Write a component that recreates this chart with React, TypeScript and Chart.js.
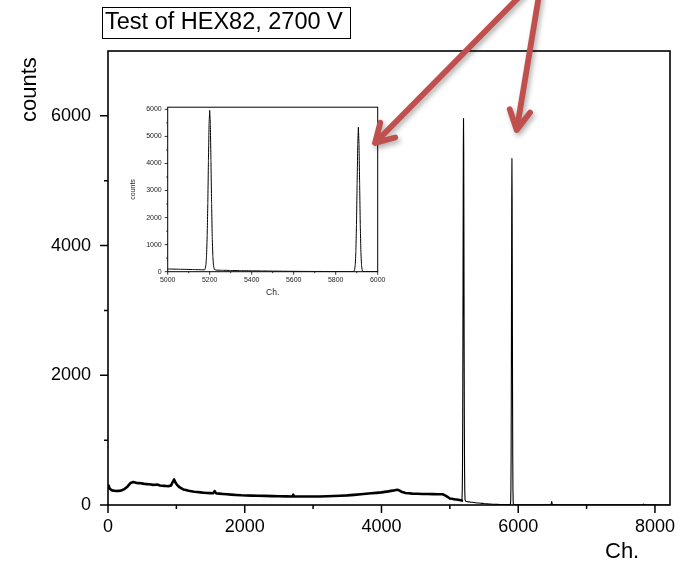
import React, { useEffect, useRef } from 'react';
import { Chart, registerables } from 'chart.js';

Chart.register(...registerables);

const FONT = '"Liberation Sans", Arial, Helvetica, sans-serif';

// ---- data ----
const channels = [
  0, 10, 25, 60, 120, 180, 240, 290, 330, 370, 420, 480, 540, 600, 660, 720, 760, 820, 880, 920,
  950, 965, 985, 1010, 1050, 1100, 1180, 1260, 1350, 1450, 1540, 1560, 1580, 1680, 1800, 1950,
  2100, 2300, 2500, 2700, 2710, 2720, 2900, 3100, 3300, 3500, 3700, 3850, 4000, 4100, 4180, 4240,
  4290, 4350, 4450, 4600, 4750, 4900, 4960, 5000, 5060, 5120, 5160, 5176,
  5178, 5182, 5185, 5188, 5191, 5194, 5197, 5200, 5203, 5206, 5209, 5212, 5215, 5218, 5222, 5230,
  5260, 5300, 5350, 5400, 5450, 5500, 5550, 5600, 5650, 5700, 5750, 5800, 5850, 5880,
  5887, 5890, 5893, 5896, 5899, 5902, 5905, 5908, 5911, 5914, 5917, 5920, 5923, 5926, 5929, 5940,
  6000, 6150, 6300, 6480, 6490, 6500, 6700, 7000, 7400, 7820, 7830, 7840, 8100, 8220,
];
const counts = [
  270, 300, 250, 225, 215, 220, 245, 290, 340, 355, 340, 335, 325, 320, 310, 315, 300, 295, 290, 300,
  360, 395, 350, 310, 270, 240, 220, 205, 195, 185, 180, 215, 180, 170, 160, 150,
  145, 140, 135, 132, 160, 132, 130, 132, 138, 148, 165, 180, 195, 210, 225, 235,
  205, 185, 175, 170, 168, 165, 130, 100, 90, 80, 72, 68,
  95, 244, 590, 1315, 2540, 4100, 5470, 5960, 5460, 4090, 2530, 1300, 575, 230, 85, 58,
  52, 45, 38, 32, 28, 22, 18, 14, 11, 9, 8, 7, 6, 6,
  18, 65, 240, 728, 1738, 3242, 4715, 5340, 4713, 3239, 1734, 723, 235, 59, 12, 6,
  5, 5, 4, 4, 55, 4, 3, 3, 2, 2, 16, 2, 1, 1,
];

// axis ranges and ticks
const mainXRange = [0, 8220];
const mainYRange = [0, 7000];
const mainXTicks = [0, 1000, 2000, 3000, 4000, 5000, 6000, 7000, 8000];
const mainYTicks = [0, 1000, 2000, 3000, 4000, 5000, 6000];
const mainXLabels = ['0', '', '2000', '', '4000', '', '6000', '', '8000'];
const mainYLabels = ['0', '', '2000', '', '4000', '', '6000'];

const insetXRange = [5000, 6000];
const insetYRange = [0, 6080];
const insetXTicks = [5000, 5100, 5200, 5300, 5400, 5500, 5600, 5700, 5800, 5900, 6000];
const insetXLabels = ['5000', '', '5200', '', '5400', '', '5600', '', '5800', '', '6000'];
const insetYTicks = [0, 500, 1000, 1500, 2000, 2500, 3000, 3500, 4000, 4500, 5000, 5500, 6000];
const insetYLabels = ['0', '', '1000', '', '2000', '', '3000', '', '4000', '', '5000', '', '6000'];

const titleText = 'Test of HEX82, 2700 V';
const xTitle = 'Ch.';
const yTitle = 'counts';

const points = () => channels.map((c, i) => ({ x: c, y: counts[i] }));

const setTicks = (values: number[]) => (s: any) => {
  s.ticks = values.map((v) => ({ value: v }));
};
const labelsFrom = (labels: string[]) => (_v: any, i: number) => labels[i];

function framePlugin(o: { frame: number; major: number; minor: number; tickW: number }) {
  return {
    id: 'frameTicks',
    afterDatasetsDraw(chart: any) {
      const { ctx, chartArea } = chart;
      const { left, right, top, bottom } = chartArea;
      const xs = chart.scales.x;
      const ys = chart.scales.y;
      ctx.save();
      ctx.strokeStyle = '#000';
      ctx.lineWidth = o.frame;
      ctx.strokeRect(left, top, right - left, bottom - top);
      ctx.lineWidth = o.tickW;
      ctx.beginPath();
      xs.ticks.forEach((t: any) => {
        const p = xs.getPixelForValue(t.value);
        const len = t.label !== '' ? o.major : o.minor;
        ctx.moveTo(p, bottom);
        ctx.lineTo(p, bottom + len);
      });
      ys.ticks.forEach((t: any) => {
        const p = ys.getPixelForValue(t.value);
        const len = t.label !== '' ? o.major : o.minor;
        ctx.moveTo(left, p);
        ctx.lineTo(left - len, p);
      });
      ctx.stroke();
      ctx.restore();
    },
  };
}

const mainTitles = {
  id: 'mainTitles',
  afterDraw(chart: any) {
    const { ctx } = chart;
    ctx.save();
    ctx.fillStyle = '#000';
    ctx.font = `22px ${FONT}`;
    ctx.textBaseline = 'alphabetic';
    ctx.textAlign = 'left';
    ctx.fillText(xTitle, 605, 558);
    ctx.translate(36, 122);
    ctx.rotate(-Math.PI / 2);
    ctx.fillText(yTitle, 0, 0);
    ctx.restore();
  },
};

// annotation arrows (decoration)
const arrows = [
  { from: [522, -6], to: [375, 143], spread: 30, wing: 21 },
  { from: [539.2, -6], to: [516.7, 130], spread: 28, wing: 22 },
];

const arrowPlugin = {
  id: 'arrows',
  afterDraw(chart: any) {
    const { ctx } = chart;
    ctx.save();
    ctx.strokeStyle = 'rgb(192, 80, 77)';
    ctx.lineWidth = 5.8;
    ctx.lineCap = 'round';
    ctx.lineJoin = 'round';
    ctx.shadowColor = 'rgba(0,0,0,0.3)';
    ctx.shadowBlur = 5;
    ctx.shadowOffsetX = 2;
    ctx.shadowOffsetY = 3;
    arrows.forEach((a) => {
      const [x0, y0] = a.from;
      const [x1, y1] = a.to;
      const ang = Math.atan2(y0 - y1, x0 - x1);
      const s = (a.spread * Math.PI) / 180;
      ctx.beginPath();
      ctx.moveTo(x0, y0);
      ctx.lineTo(x1, y1);
      ctx.moveTo(x1 + a.wing * Math.cos(ang - s), y1 + a.wing * Math.sin(ang - s));
      ctx.lineTo(x1, y1);
      ctx.lineTo(x1 + a.wing * Math.cos(ang + s), y1 + a.wing * Math.sin(ang + s));
      ctx.stroke();
    });
    ctx.restore();
  },
};

export default function App() {
  const mainRef = useRef<HTMLCanvasElement>(null);
  const insetRef = useRef<HTMLCanvasElement>(null);

  useEffect(() => {
    const main = new Chart(mainRef.current as HTMLCanvasElement, {
      type: 'line',
      data: {
        datasets: [
          {
            data: points(),
            borderColor: '#000',
            borderWidth: 1.2,
            borderJoinStyle: 'round',
            borderCapStyle: 'round',
            pointRadius: 0,
            tension: 0.00001,
            fill: false,
            segment: {
              borderWidth: (c: any) => (c.p0.parsed.x >= 5170 ? 1.1 : 2.6),
            },
          } as any,
        ],
      },
      options: {
        responsive: false,
        animation: false,
        events: [],
        layout: { padding: { left: 0, top: 51, right: 18, bottom: 0 } },
        plugins: { legend: { display: false }, tooltip: { enabled: false }, title: { display: false } },
        scales: {
          x: {
            type: 'linear',
            min: mainXRange[0],
            max: mainXRange[1],
            afterBuildTicks: setTicks(mainXTicks),
            afterFit: (s: any) => {
              s.height = 57;
            },
            grid: { display: false, drawTicks: false },
            border: { display: false },
            ticks: {
              autoSkip: false,
              maxRotation: 0,
              padding: 11,
              color: '#000',
              font: { family: FONT, size: 18 },
              callback: labelsFrom(mainXLabels),
            },
          },
          y: {
            type: 'linear',
            min: mainYRange[0],
            max: mainYRange[1],
            afterBuildTicks: setTicks(mainYTicks),
            afterFit: (s: any) => {
              s.width = 108;
            },
            grid: { display: false, drawTicks: false },
            border: { display: false },
            ticks: {
              autoSkip: false,
              padding: 17,
              color: '#000',
              font: { family: FONT, size: 18 },
              callback: labelsFrom(mainYLabels),
            },
          },
        },
      } as any,
      plugins: [framePlugin({ frame: 1.6, major: 8, minor: 4, tickW: 1.5 }), mainTitles, arrowPlugin],
    });

    const inset = new Chart(insetRef.current as HTMLCanvasElement, {
      type: 'line',
      data: {
        datasets: [
          {
            data: points(),
            borderColor: '#000',
            borderWidth: 1,
            borderJoinStyle: 'round',
            pointRadius: 0,
            tension: 0.00001,
            fill: false,
          } as any,
        ],
      },
      options: {
        responsive: false,
        animation: false,
        events: [],
        layout: { padding: { left: 0, top: 5.3, right: 12.3, bottom: 0 } },
        plugins: { legend: { display: false }, tooltip: { enabled: false }, title: { display: false } },
        scales: {
          x: {
            type: 'linear',
            min: insetXRange[0],
            max: insetXRange[1],
            afterBuildTicks: setTicks(insetXTicks),
            afterFit: (s: any) => {
              s.height = 28.3;
            },
            grid: { display: false, drawTicks: false },
            border: { display: false },
            title: {
              display: true,
              text: xTitle,
              color: '#222',
              font: { family: FONT, size: 8.5 },
              padding: { top: 0, bottom: 2 },
            },
            ticks: {
              autoSkip: false,
              maxRotation: 0,
              padding: 4,
              color: '#222',
              font: { family: FONT, size: 7 },
              callback: labelsFrom(insetXLabels),
            },
          },
          y: {
            type: 'linear',
            min: insetYRange[0],
            max: insetYRange[1],
            afterBuildTicks: setTicks(insetYTicks),
            afterFit: (s: any) => {
              s.width = 42.7;
            },
            grid: { display: false, drawTicks: false },
            border: { display: false },
            title: {
              display: true,
              text: yTitle,
              color: '#222',
              font: { family: FONT, size: 7 },
              padding: { top: 4, bottom: 0 },
            },
            ticks: {
              autoSkip: false,
              padding: 6,
              color: '#222',
              font: { family: FONT, size: 7 },
              callback: labelsFrom(insetYLabels),
            },
          },
        },
      } as any,
      plugins: [framePlugin({ frame: 1, major: 3, minor: 1.5, tickW: 0.8 })],
    });

    return () => {
      main.destroy();
      inset.destroy();
    };
  }, []);

  return (
    <div style={{ position: 'absolute', left: 0, top: 0, width: 688, height: 562, background: '#fff' }}>
      <canvas
        ref={insetRef}
        width={265}
        height={203}
        style={{ position: 'absolute', left: 125, top: 97, width: 265, height: 203, zIndex: 0 }}
      />
      <canvas
        ref={mainRef}
        width={688}
        height={562}
        style={{ position: 'absolute', left: 0, top: 0, width: 688, height: 562, zIndex: 1 }}
      />
      <div
        style={{
          position: 'absolute',
          left: 102,
          top: 7,
          width: 249,
          height: 32,
          boxSizing: 'border-box',
          border: '1px solid #000',
          fontFamily: FONT,
          fontSize: 23.5,
          lineHeight: '26px',
          paddingLeft: 2,
          whiteSpace: 'nowrap',
          color: '#000',
          zIndex: 2,
        }}
      >
        {titleText}
      </div>
    </div>
  );
}
